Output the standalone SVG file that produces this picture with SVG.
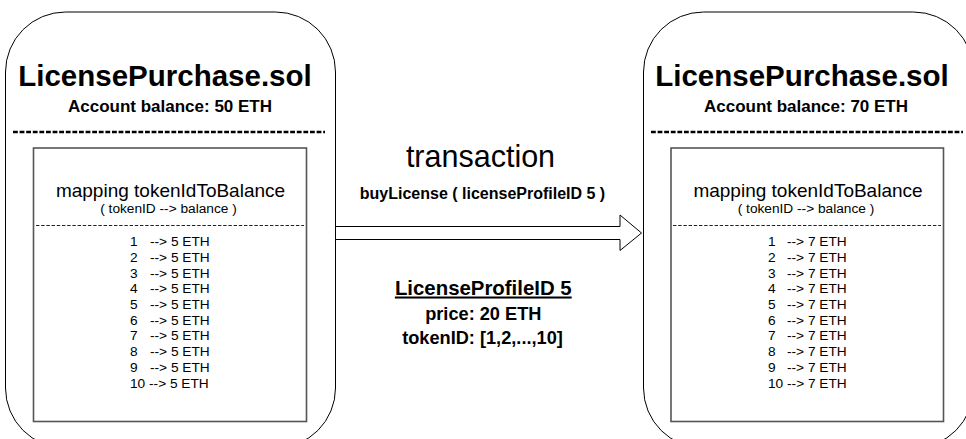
<svg xmlns="http://www.w3.org/2000/svg" width="966" height="439" viewBox="0 0 966 439">
  <style>
    text { font-family: "Liberation Sans", Arial, Helvetica, sans-serif; fill: #000; }
    .shell { fill: #fff; stroke: #000; stroke-width: 1; }
    .store { fill: #fff; stroke: #555; stroke-width: 1.6; }
    .title { font-size: 29.5px; font-weight: bold; text-anchor: middle; }
    .bal { font-size: 17px; font-weight: bold; text-anchor: middle; }
    .sep { stroke: #000; stroke-width: 2.6; stroke-dasharray: 4.8 1.8; }
    .sep-thin { stroke: #222; stroke-width: 1; stroke-dasharray: 3.4 1.8; }
    .map { font-size: 19px; text-anchor: middle; }
    .sub { font-size: 13.7px; text-anchor: middle; }
    .row { font-size: 13.7px; fill: #111; }
    .big { font-size: 30.5px; text-anchor: middle; }
    .call { font-size: 16px; font-weight: bold; text-anchor: middle; }
    .head { font-size: 20.4px; font-weight: bold; text-anchor: middle; text-decoration: underline; }
    .info { font-size: 18.2px; font-weight: bold; text-anchor: middle; }
    .arrow { fill: #fff; stroke: #000; stroke-width: 1; }
  </style>

  <!-- contract before the purchase -->
  <g id="contract-before">
    <rect class="shell" x="5.5" y="12" width="330" height="436" rx="60" ry="60"/>
    <text class="title" x="165" y="86">LicensePurchase.sol</text>
    <text class="bal" x="170" y="112">Account balance: 50 ETH</text>
    <line class="sep" x1="13" y1="132" x2="325" y2="132"/>
    <rect class="store" x="33.5" y="148" width="273" height="273.5"/>
    <text class="map" x="170.5" y="197">mapping tokenIdToBalance</text>
    <text class="sub" x="168.5" y="213">( tokenID --&gt; balance )</text>
    <line class="sep-thin" x1="36" y1="225.5" x2="304" y2="225.5"/>
    <g class="row">
      <text x="130" y="246">1<tspan x="150">--&gt; 5 ETH</tspan></text>
      <text x="130" y="261.7">2<tspan x="150">--&gt; 5 ETH</tspan></text>
      <text x="130" y="277.5">3<tspan x="150">--&gt; 5 ETH</tspan></text>
      <text x="130" y="293.2">4<tspan x="150">--&gt; 5 ETH</tspan></text>
      <text x="130" y="309">5<tspan x="150">--&gt; 5 ETH</tspan></text>
      <text x="130" y="324.7">6<tspan x="150">--&gt; 5 ETH</tspan></text>
      <text x="130" y="340.4">7<tspan x="150">--&gt; 5 ETH</tspan></text>
      <text x="130" y="356.2">8<tspan x="150">--&gt; 5 ETH</tspan></text>
      <text x="130" y="371.9">9<tspan x="150">--&gt; 5 ETH</tspan></text>
      <text x="130" y="387.7">10 --&gt; 5 ETH</text>
    </g>
  </g>

  <!-- contract after the purchase -->
  <g id="contract-after">
    <rect class="shell" x="643.5" y="12" width="330" height="436" rx="60" ry="60"/>
    <text class="title" x="802" y="86">LicensePurchase.sol</text>
    <text class="bal" x="806" y="112">Account balance: 70 ETH</text>
    <line class="sep" x1="651" y1="132" x2="963" y2="132"/>
    <rect class="store" x="671" y="148" width="272.5" height="273.5"/>
    <text class="map" x="808" y="197">mapping tokenIdToBalance</text>
    <text class="sub" x="806" y="213">( tokenID --&gt; balance )</text>
    <line class="sep-thin" x1="673" y1="225.5" x2="941" y2="225.5"/>
    <g class="row">
      <text x="768" y="246">1<tspan x="787">--&gt; 7 ETH</tspan></text>
      <text x="768" y="261.7">2<tspan x="787">--&gt; 7 ETH</tspan></text>
      <text x="768" y="277.5">3<tspan x="787">--&gt; 7 ETH</tspan></text>
      <text x="768" y="293.2">4<tspan x="787">--&gt; 7 ETH</tspan></text>
      <text x="768" y="309">5<tspan x="787">--&gt; 7 ETH</tspan></text>
      <text x="768" y="324.7">6<tspan x="787">--&gt; 7 ETH</tspan></text>
      <text x="768" y="340.4">7<tspan x="787">--&gt; 7 ETH</tspan></text>
      <text x="768" y="356.2">8<tspan x="787">--&gt; 7 ETH</tspan></text>
      <text x="768" y="371.9">9<tspan x="787">--&gt; 7 ETH</tspan></text>
      <text x="768" y="387.7">10 --&gt; 7 ETH</text>
    </g>
  </g>

  <!-- transaction arrow between the two states -->
  <g id="connectors">
    <path class="arrow" d="M335.5,226.5 L620,226.5 L620,215 L641.5,233 L620,250.5 L620,239.5 L335.5,239.5 Z"/>
  </g>

  <!-- transaction labels -->
  <g id="transaction-label">
    <text class="big" x="480.5" y="166.5">transaction</text>
    <text class="call" x="482.5" y="199">buyLicense ( licenseProfileID 5 )</text>
  </g>

  <g id="license-profile">
    <text class="head" x="483.3" y="294.5">LicenseProfileID 5</text>
    <text class="info" x="483.3" y="320">price: 20 ETH</text>
    <text class="info" x="482.5" y="343.5">tokenID: [1,2,...,10]</text>
  </g>
</svg>
